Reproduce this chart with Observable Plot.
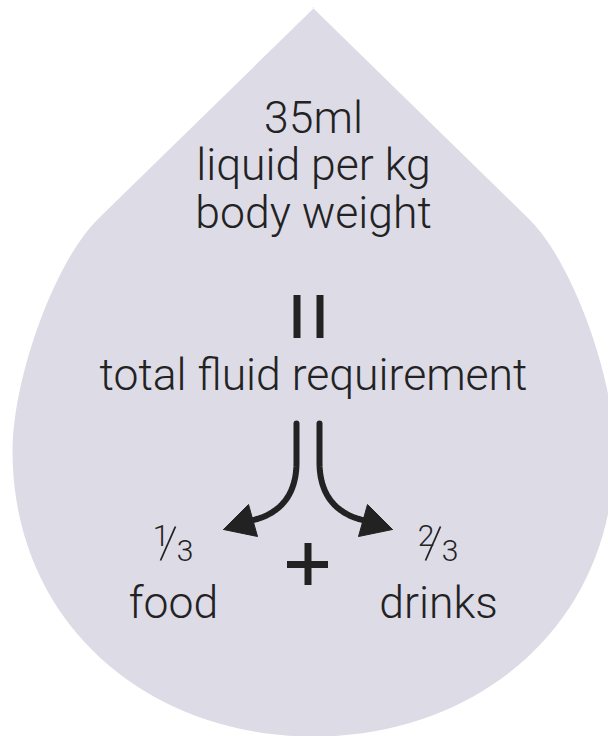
<!DOCTYPE html>
<html>
<head>
<meta charset="utf-8">
<script src="https://cdn.jsdelivr.net/npm/d3@7"></script>
<script src="https://cdn.jsdelivr.net/npm/@observablehq/plot@0.6"></script>
<style>
  html, body { margin: 0; padding: 0; background: #ffffff; }
  #chart svg { display: block; }
</style>
</head>
<body>
<div id="chart"></div>
<script>
// ---- content ----
const headLines = ["35ml", "liquid per kg", "body weight"];
const resultLines = ["total fluid requirement"];
const equalsSign = ["=", "="];            // drawn as two vertical bars
const shareNumerators = ["1", "2"];        // ⅓ and ⅔
const shareDenominators = ["3", "3"];
const parts = ["food", "drinks"];
const operators = ["+"];

// ---- style ----
const FILL = "#dcdbe6";
const INK = "#232223";
const FONT = "Roboto, 'Open Sans', sans-serif";
const SIZE = 44.5;

// ---- layout (pixel geometry) ----
const W = 608, H = 736;
const cx = 313;

// drop outline built from cubic Bézier segments (left half, mirrored)
function bez(p0, p1, p2, p3, n) {
  const out = [];
  for (let i = 0; i <= n; i++) {
    const t = i / n, u = 1 - t;
    out.push([
      u*u*u*p0[0] + 3*u*u*t*p1[0] + 3*u*t*t*p2[0] + t*t*t*p3[0],
      u*u*u*p0[1] + 3*u*u*t*p1[1] + 3*u*t*t*p2[1] + t*t*t*p3[1]
    ]);
  }
  return out;
}
const apex = [cx + 1, 7];
const leftHalf = [
  apex,
  ...bez([98, 218], [53, 262], [12, 380], [12, 450], 30),
  ...bez([12, 450], [12, 622], [146, 736], [cx, 736], 40)
];
const rightHalf = leftHalf.slice().reverse().map(([x, y]) => [2 * cx - x, y]);
const drop = [...leftHalf, ...rightHalf.slice(1)].map(([x, y]) => ({x, y}));

// curved arrows
function arrowGeom(side) {
  const m = x => side < 0 ? x : 2 * 307.5 - x;
  const shaft = [[296, 423], ...bez([296, 462], [296, 496], [278, 514], [251, 520], 24)]
    .map(([x, y]) => ({x: m(x), y, side}));
  const head = [[223, 529], [248, 504], [257, 536], [223, 529]]
    .map(([x, y]) => ({x: m(x), y, side}));
  return {shaft, head};
}
const arrows = [-1, 1].map(arrowGeom);
const shafts = arrows.flatMap(a => a.shaft);
const heads = arrows.flatMap(a => a.head);

const headData = headLines.map((t, i) => ({t, x: cx, y: 132 + i * 47.5}));
const resultData = resultLines.map(t => ({t, x: cx, y: 389}));
const barData = equalsSign.map((s, i) => ({x: cx - 16.5 + i * 23}));
const fracCenters = [174, 439];
const numData = shareNumerators.map((t, i) => ({t, x: fracCenters[i] - 13.5, y: 545}));
const denData = shareDenominators.map((t, i) => ({t, x: fracCenters[i] + 10.5, y: 560}));
const slashData = fracCenters.map(c => ({x1: c - 14, y1: 560, x2: c + 1, y2: 526}));
const partData = parts.map((t, i) => ({t, x: i ? 438 : 173, y: 617}));
const plusData = operators.map(t => ({t, x: 307.5, y: 564}));

const textOpts = {x: "x", y: "y", text: "t", fontWeight: 300, fill: INK, lineAnchor: "bottom", textAnchor: "middle"};

const chart = Plot.plot({
  width: W,
  height: H,
  margin: 0,
  x: {type: "identity", axis: null},
  y: {type: "identity", axis: null},
  style: {fontFamily: FONT, background: "transparent"},
  marks: [
    Plot.line(drop, {x: "x", y: "y", fill: FILL, stroke: "none", curve: "linear-closed"}),
    Plot.text(headData, {...textOpts, fontSize: SIZE}),
    Plot.ruleX(barData, {x: "x", y1: 295, y2: 338, stroke: INK, strokeWidth: 7}),
    Plot.text(resultData, {...textOpts, fontSize: SIZE}),
    Plot.line(shafts, {x: "x", y: "y", z: "side", stroke: INK, strokeWidth: 6, fill: "none"}),
    Plot.line(heads, {x: "x", y: "y", z: "side", fill: INK, stroke: INK, strokeWidth: 1, strokeLinejoin: "miter"}),
    Plot.text(numData, {...textOpts, fontSize: 30}),
    Plot.text(denData, {...textOpts, fontSize: 30}),
    Plot.link(slashData, {x1: "x1", y1: "y1", x2: "x2", y2: "y2", stroke: INK, strokeWidth: 1.8}),
    Plot.text(partData, {...textOpts, fontSize: SIZE}),
    Plot.ruleX(plusData, {x: "x", y1: d => d.y - 21, y2: d => d.y + 21, stroke: INK, strokeWidth: 7}),
    Plot.ruleY(plusData, {y: "y", x1: d => d.x - 20.5, x2: d => d.x + 20.5, stroke: INK, strokeWidth: 7})
  ]
});
document.getElementById("chart").append(chart);
</script>
</body>
</html>
